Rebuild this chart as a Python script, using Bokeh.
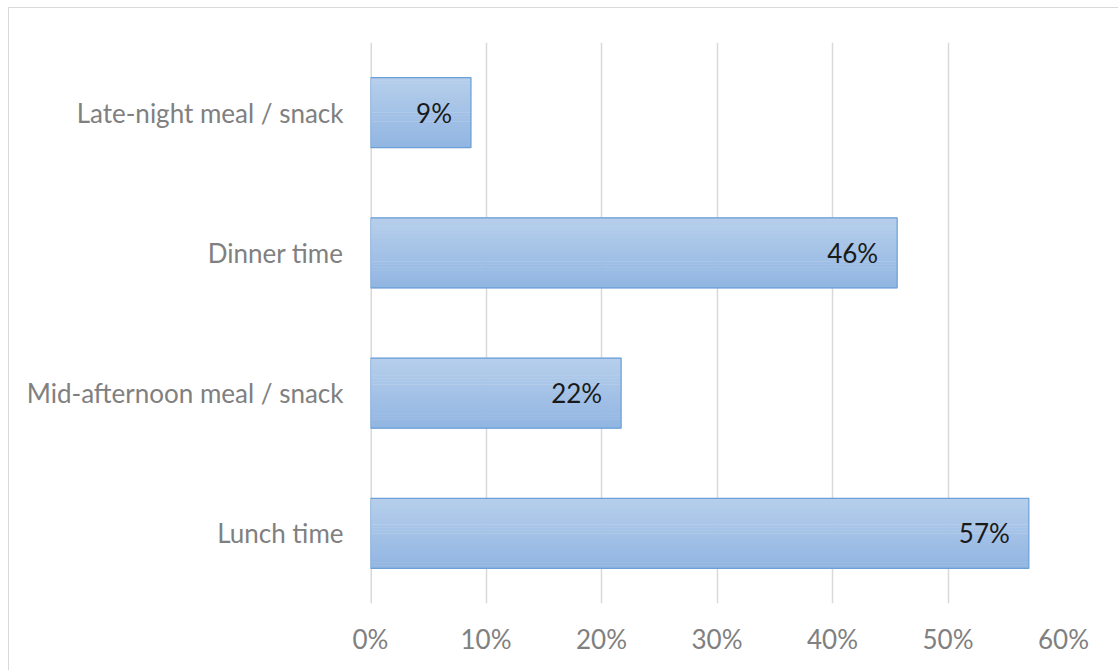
from bokeh.plotting import figure
from bokeh.models import ColumnDataSource, Range1d, FactorRange, NumeralTickFormatter, FixedTicker, Span
from bokeh.transform import dodge
from bokeh.core.properties import value
from bokeh.embed import file_html
from bokeh.resources import INLINE

categories = ["Lunch time", "Mid-afternoon meal / snack", "Dinner time", "Late-night meal / snack"]
shares = [0.570, 0.217, 0.456, 0.087]
x_ticks = [0.0, 0.1, 0.2, 0.3, 0.4, 0.5, 0.6]

labels = [f"{round(v * 100)}%" for v in shares]
src = ColumnDataSource(dict(cat=categories, val=shares, label=labels))

FONT = "Lato"

p = figure(width=1110, height=663, y_range=FactorRange(*categories), x_range=Range1d(0, 0.6),
           output_backend="svg", toolbar_location=None,
           min_border_left=361, min_border_right=56, min_border_top=34, min_border_bottom=68)
p.styles = {"margin-left": "8px", "margin-top": "7px",
            "border-left": "1px solid #d9d9d9", "border-top": "1px solid #d9d9d9"}
p.outline_line_color = None
p.background_fill_color = "white"
p.border_fill_color = "white"

p.xgrid.grid_line_color = "#d9d9d9"
p.xgrid.grid_line_width = 1.5
p.ygrid.grid_line_color = None
p.add_layout(Span(location=0, dimension="height", line_color="#d9d9d9", line_width=3, level="underlay"))

# gradient bars made of thin strips
N = 24
bar_h = 0.5
top = (182, 206, 235)
bot = (146, 182, 226)
for i in range(N):
    t = i / (N - 1)
    col = tuple(int(round(top[k] + (bot[k] - top[k]) * t)) for k in range(3))
    off = bar_h / 2 - (i + 0.5) * bar_h / N
    p.hbar(y=dodge("cat", off, range=p.y_range), left=0, right="val", height=bar_h / N * 1.15,
           source=src, fill_color="#%02x%02x%02x" % col, line_color=None)
p.hbar(y="cat", left=0, right="val", height=bar_h, source=src, fill_color=None,
       line_color="#6a9fd8", line_width=1.2)

p.text(x="val", y="cat", text="label", source=src, x_offset=-19, text_align="right",
       text_baseline="middle", text_font=value(FONT), text_font_size="26px", text_color="#1a1a1a")

p.xaxis.ticker = FixedTicker(ticks=x_ticks)
p.xaxis.formatter = NumeralTickFormatter(format="0%")
for ax in (p.xaxis[0], p.yaxis[0]):
    ax.axis_line_color = None
    ax.major_tick_line_color = None
    ax.minor_tick_line_color = None
    ax.major_tick_out = 0
    ax.major_tick_in = 0
    ax.minor_tick_out = 0
    ax.minor_tick_in = 0
    ax.major_label_text_font = FONT
    ax.major_label_text_font_size = "26px"
    ax.major_label_text_color = "#808080"
p.xaxis.major_label_standoff = 19
p.yaxis.major_label_standoff = 27

open("out.html", "w").write(file_html(p, INLINE))
